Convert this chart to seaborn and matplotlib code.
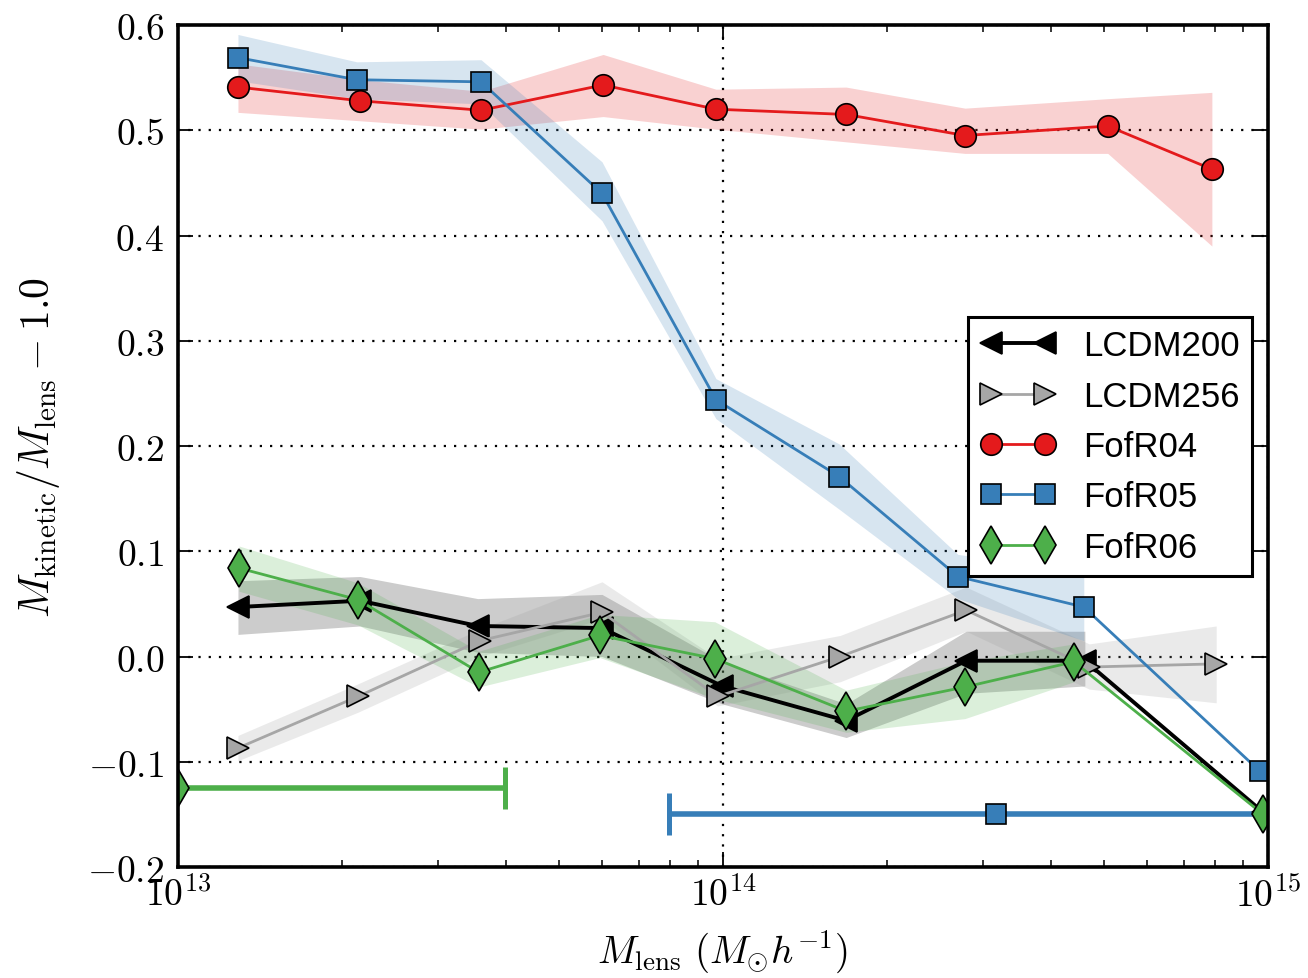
import numpy as np
import matplotlib
matplotlib.use("Agg")
import matplotlib.pyplot as plt
import seaborn as sns
from matplotlib.ticker import FuncFormatter, LogLocator, NullFormatter, NullLocator

# ---------------- data (log10 of lens mass, values, band limits) ----------------
names = ["LCDM200", "LCDM256", "FofR04", "FofR05", "FofR06"]

logm_lcdm200 = [13.110, 13.334, 13.550, 13.778, 13.998, 14.226, 14.446, 14.664, 14.991]
val_lcdm200 = [0.047, 0.053, 0.029, 0.027, -0.028, -0.061, -0.004, -0.004, -0.148]
up_lcdm200 = [0.072, 0.076, 0.055, 0.059, -0.005, -0.045, 0.024, 0.024, np.nan]
lo_lcdm200 = [0.021, 0.029, 0.004, 0.000, -0.045, -0.077, -0.035, -0.028, np.nan]

logm_lcdm256 = [13.110, 13.330, 13.554, 13.778, 13.990, 14.215, 14.446, 14.672, 14.905]
val_lcdm256 = [-0.087, -0.038, 0.015, 0.042, -0.038, 0.000, 0.044, -0.010, -0.007]
up_lcdm256 = [-0.075, -0.026, 0.026, 0.071, -0.002, 0.020, 0.066, 0.012, 0.029]
lo_lcdm256 = [-0.099, -0.053, 0.000, 0.036, -0.047, -0.024, 0.024, -0.031, -0.044]

logm_fofr04 = [13.110, 13.334, 13.556, 13.780, 13.987, 14.226, 14.444, 14.706, 14.897]
val_fofr04 = [0.541, 0.528, 0.519, 0.543, 0.520, 0.515, 0.495, 0.504, 0.463]
up_fofr04 = [0.563, 0.548, 0.537, 0.572, 0.539, 0.541, 0.521, 0.530, 0.536]
lo_fofr04 = [0.517, 0.509, 0.501, 0.513, 0.501, 0.489, 0.478, 0.478, 0.390]

logm_fofr05 = [13.110, 13.328, 13.556, 13.778, 13.987, 14.213, 14.431, 14.662, 14.985]
val_fofr05 = [0.569, 0.548, 0.546, 0.440, 0.244, 0.171, 0.076, 0.047, -0.109]
up_fofr05 = [0.591, 0.565, 0.567, 0.470, 0.264, 0.202, 0.097, 0.080, np.nan]
lo_fofr05 = [0.547, 0.530, 0.525, 0.414, 0.226, 0.140, 0.055, 0.015, np.nan]

logm_fofr06 = [13.112, 13.330, 13.552, 13.774, 13.985, 14.226, 14.444, 14.644, 14.991]
val_fofr06 = [0.084, 0.054, -0.015, 0.020, -0.002, -0.052, -0.029, -0.005, -0.150]
up_fofr06 = [0.105, 0.070, 0.005, 0.040, 0.033, -0.032, -0.005, 0.012, np.nan]
lo_fofr06 = [0.062, 0.030, -0.029, -0.001, -0.040, -0.072, -0.059, -0.024, np.nan]

# example error bars (log10 centre, log10 half-width, value)
err_logm = [13.0, 14.50]
err_halfwidth = [0.6, 0.6]
err_val = [-0.125, -0.150]

ytick_values = [-0.2, -0.1, 0.0, 0.1, 0.2, 0.3, 0.4, 0.5, 0.6]

# ---------------- style ----------------
sns.set_style("ticks")
plt.rcParams.update({
    "font.family": ["DejaVu Sans"],
    "mathtext.fontset": "cm",
    "axes.linewidth": 2.6,
    "axes.edgecolor": "black",
    "xtick.color": "black",
    "ytick.color": "black",
    "text.color": "black",
    "axes.labelcolor": "black",
})

RED = "#e41a1c"
BLUE = "#377eb8"
GREEN = "#4daf4a"

fig = plt.figure(figsize=(13.08, 9.79), dpi=100)
ax = fig.add_axes([178 / 1308, 1 - 868 / 979, 1090 / 1308, 842 / 979])

series = [
    (names[0], logm_lcdm200, val_lcdm200, up_lcdm200, lo_lcdm200, "k", "k", "<", 16, 2.8, 0.2, "k"),
    (names[1], logm_lcdm256, val_lcdm256, up_lcdm256, lo_lcdm256, "#a6a6a6", "#a6a6a6", ">", 16, 2.0, 0.2, "#999999"),
    (names[2], logm_fofr04, val_fofr04, up_fofr04, lo_fofr04, RED, RED, "o", 15.5, 2.0, 0.2, RED),
    (names[3], logm_fofr05, val_fofr05, up_fofr05, lo_fofr05, BLUE, BLUE, "s", 14.5, 2.0, 0.2, BLUE),
    (names[4], logm_fofr06, val_fofr06, up_fofr06, lo_fofr06, GREEN, GREEN, "d", 19, 2.0, 0.2, GREEN),
]

for name, lm, v, up, lo, lc, fc, mk, ms, lw, alpha, bandc in series:
    x = 10 ** np.asarray(lm)
    ax.fill_between(x, np.asarray(lo), np.asarray(up), color=bandc, alpha=alpha, lw=0, zorder=1)

for name, lm, v, up, lo, lc, fc, mk, ms, lw, alpha, bandc in series:
    x = 10 ** np.asarray(lm)
    sns.lineplot(x=x, y=np.asarray(v), ax=ax, color=lc, lw=lw, marker=mk,
                 markersize=ms, markerfacecolor=fc, markeredgecolor="k",
                 markeredgewidth=1.2, label=name, sort=False, errorbar=None,
                 zorder=3)

# error-bar examples
for lm, hw, v, col, mk, ms in zip(err_logm, err_halfwidth, err_val, [GREEN, BLUE], ["d", "s"], [19, 14.5]):
    c = 10 ** lm
    xerr = [[c - 10 ** (lm - hw)], [10 ** (lm + hw) - c]]
    cont = ax.errorbar([c], [v], xerr=xerr, fmt=mk, color=col, ms=ms, mfc=col, mec="k",
                       elinewidth=4.0, capsize=15, capthick=3.6, zorder=2)
    cont[0].set_markeredgewidth(1.2)

ax.set_xscale("log")
ax.set_xlim(1e13, 1e15)
ax.set_ylim(-0.2, 0.6)
ax.set_yticks(ytick_values)
ax.yaxis.set_major_formatter(FuncFormatter(lambda v, p: r"$%.1f$" % v))
ax.xaxis.set_major_locator(LogLocator(base=10, numticks=10))
ax.xaxis.set_minor_locator(LogLocator(base=10, subs=np.arange(2, 10), numticks=20))
ax.xaxis.set_minor_formatter(NullFormatter())
ax.xaxis.set_major_formatter(FuncFormatter(lambda v, p: r"$10^{%d}$" % int(round(np.log10(v)))))
ax.yaxis.set_minor_locator(NullLocator())

ax.tick_params(axis="both", which="both", direction="in", top=True, right=True, color="k")
ax.tick_params(axis="both", which="major", length=11, width=1.3, labelsize=27)
ax.tick_params(axis="y", which="major", pad=10)
ax.tick_params(axis="x", which="major", pad=7)
ax.tick_params(axis="x", which="minor", length=5, width=1.1)

ax.grid(True, which="major", color="k", lw=1.6, linestyle=(0, (1.0, 3.6)))

for s in ax.spines.values():
    s.set_linewidth(2.6)
    s.set_edgecolor("k")
    s.set_zorder(5)

ax.set_xlabel(r"$M_{\rm lens}\ (M_{\odot}h^{-1})$", fontsize=28, labelpad=10)
ax.set_ylabel(r"$M_{\rm kinetic}/M_{\rm lens} - 1.0$", fontsize=30, labelpad=18)

handles, labels = ax.get_legend_handles_labels()
leg = ax.legend(handles, labels, loc="upper right", bbox_to_anchor=(0.985, 0.653),
                borderaxespad=0, numpoints=2, fancybox=False, framealpha=1,
                edgecolor="k", handlelength=2.16, handletextpad=0.8,
                labelspacing=0.5, borderpad=0.35,
                prop={"family": "Liberation Sans", "size": 25})
leg.get_frame().set_linewidth(2.2)
leg.set_zorder(6)

fig.savefig("out.png", dpi=100)
